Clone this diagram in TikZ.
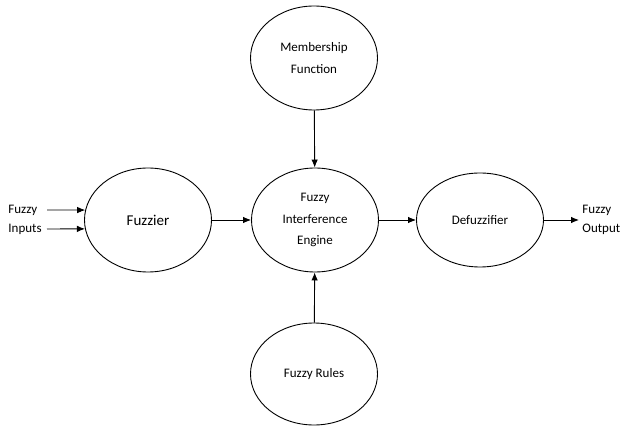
\documentclass[tikz,border=0pt]{standalone}
\usepackage{fontspec}
\setmainfont{Carlito}
\usetikzlibrary{shapes.geometric, arrows.meta}

\begin{document}
\begin{tikzpicture}[x=1pt, y=-1pt, line width=0.9pt, >={Latex[length=8pt, width=6.5pt]},
    block/.style={draw, ellipse, minimum width=127pt, minimum height=104pt, inner sep=0pt, align=center, font=\fontsize{13}{21.5}\selectfont},
    plain/.style={align=left, inner sep=0pt, font=\fontsize{13}{19}\selectfont}]
    \useasboundingbox (0, 0) rectangle (623, 427);

    % Blocks
    \node[block] (member) at (314, 58) {Membership\\Function};
    \node[block] (engine) at (315, 220) {Fuzzy\\Interference\\Engine};
    \node[block, font=\fontsize{15}{18}\selectfont] (fuzzier) at (148, 220) {Fuzzier};
    \node[block, minimum height=94pt] (defuzz) at (480, 220) {Defuzzifier};
    \node[block, minimum height=102pt] (rules) at (314, 374) {Fuzzy Rules};

    % Inputs and output
    \node[plain, anchor=west] (inputs) at (8, 219.5) {Fuzzy\\Inputs};
    \node[plain, anchor=west] (output) at (582, 219.5) {Fuzzy\\Output};
    \coordinate (inA) at (47, 210);
    \coordinate (inB) at (47, 229);
    \coordinate (out) at (579, 220);

    % Connectors
    \draw[->] (inA) -- (fuzzier.171.8);
    \draw[->] (inB) -- (fuzzier.188.2);
    \draw[->] (fuzzier) -- (engine);
    \draw[->] (engine) -- (defuzz);
    \draw[->] (defuzz) -- (out);
    \draw[->] (member) -- (engine);
    \draw[->] (rules) -- (engine);
\end{tikzpicture}
\end{document}
